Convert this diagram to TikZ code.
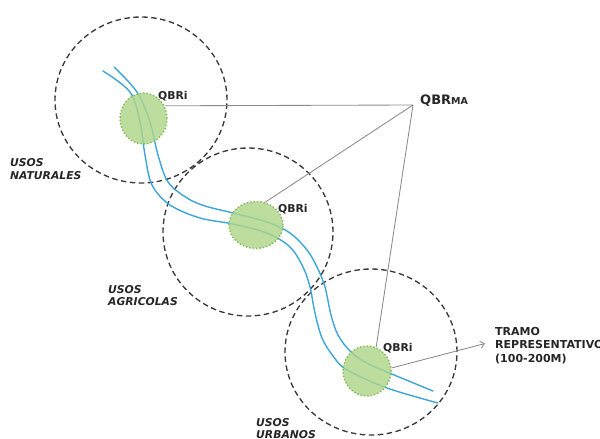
\documentclass[tikz,border=0pt]{standalone}
\usepackage{fontspec}
\setmainfont{DejaVu Sans}
\usetikzlibrary{shapes.geometric,arrows.meta}
\definecolor{riverblue}{HTML}{3CA6DA}
\definecolor{zonefill}{HTML}{AED58A}
\definecolor{zoneline}{HTML}{84BB5C}
\definecolor{ringgray}{HTML}{3A3A3A}
\definecolor{linkgray}{HTML}{8A8A8A}
\definecolor{txt}{HTML}{262626}
\tikzset{
  ring/.style={draw=ringgray, line width=1.35pt, dash pattern=on 5.5pt off 3.5pt},
  river/.style={draw=riverblue, line width=1.4pt, line cap=round},
  zone/.style={ellipse, draw=zoneline, line width=1.4pt, dotted, fill=zonefill, fill opacity=0.82, inner sep=0pt},
  link/.style={draw=linkgray, line width=0.85pt},
  qlab/.style={inner sep=0pt, anchor=base west, text=txt, font=\fontsize{10.8}{12}\selectfont\bfseries},
  usolab/.style={inner sep=0pt, anchor=base west, text=txt, font=\fontsize{10.8}{12}\selectfont\bfseries\itshape},
  tramolab/.style={inner sep=0pt, anchor=base west, text=txt, font=\fontsize{11}{12}\selectfont\bfseries}
}
\begin{document}
\begin{tikzpicture}[x=1pt,y=-1pt]
\useasboundingbox (0,0) rectangle (600,439);
% dashed rings
\draw[ring] (141,100) ellipse [x radius=86pt, y radius=83pt];
\draw[ring] (248,232) ellipse [x radius=85pt, y radius=84pt];
\draw[ring] (371,352) ellipse [x radius=86pt, y radius=83pt];
% rivers
\draw[river] plot[smooth, tension=0.55] coordinates {(114,67) (137,92) (150,122) (158,155) (168,182) (187,198) (205,206) (233,213) (267,222) (290,233) (307,250) (317,267) (325,287) (331,315) (338,335) (350,351) (365,362) (387,372) (433,391)};
\draw[river] plot[smooth, tension=0.55] coordinates {(103,71) (130,92) (140,122) (145,155) (152,185) (170,205) (200,218) (233,224) (267,233) (290,247) (303,267) (310,287) (315,313) (322,338) (333,356) (347,370) (387,388) (438,403)};
% zones
\node[zone, minimum width=47pt, minimum height=51pt] (e1) at (143.5,118.5) {};
\node[zone, minimum width=54pt, minimum height=47pt] (e2) at (256,225) {};
\node[zone, minimum width=48pt, minimum height=50pt] (e3) at (367,371) {};
% QBR labels
\node[qlab] (q1) at (158,99.5) {QBRi};
\node[qlab] (q2) at (278,212) {QBRi};
\node[qlab] (q3) at (383,351) {QBRi};
\coordinate (apex) at (413,105);
\node[inner sep=0pt, anchor=base west, text=txt, font=\bfseries] (ma) at (420,104) {{\fontsize{13}{14}\selectfont QBR}{\fontsize{9.5}{11}\selectfont MA}};
\draw[link] (e1.31) -- (apex);
\draw[link] (e2.68) -- (apex);
\draw[link] (e3.69) -- (apex);
% land use labels
\node[usolab] (n1) at (10,166) {USOS};
\node[usolab] (n2) at (10,179) {NATURALES};
\node[usolab] (a1) at (108,293) {USOS};
\node[usolab] (a2) at (108,305.5) {AGRICOLAS};
\node[usolab] (u1) at (256,426) {USOS};
\node[usolab] (u2) at (256,438.5) {URBANOS};
% tramo
\node[tramolab] (t1) at (495,335) {TRAMO};
\node[tramolab] (t2) at (495,348) {REPRESENTATIVO};
\node[tramolab] (t3) at (495,362) {(100-200M)};
\coordinate (tip) at (485,343.5);
\draw[link, -{Straight Barb[length=4pt,width=7pt]}] (e3.7) -- (tip);
\end{tikzpicture}
\end{document}
